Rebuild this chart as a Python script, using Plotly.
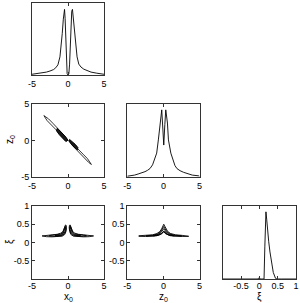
import plotly.graph_objects as go

# ---------------- data ----------------
# marginal density of x0
x0_grid = [-5, -4.5, -4, -3.5, -3, -2.5, -2, -1.7, -1.4, -1.12, -0.95, -0.8, -0.65, -0.55, -0.48, -0.4, -0.3, -0.2, -0.12, 0,
           0.12, 0.22, 0.32, 0.42, 0.52, 0.62, 0.72, 0.82, 0.93, 1.1, 1.26, 1.5, 1.8, 2.2, 2.6, 3.2, 4.0, 5]
x0_dens = [0.01, 0.015, 0.02, 0.03, 0.04, 0.055, 0.075, 0.1, 0.14, 0.25, 0.4, 0.57, 0.77, 0.87, 0.905, 0.78, 0.45, 0.15, 0.02, 0.0,
           0.02, 0.15, 0.45, 0.77, 0.88, 0.905, 0.8, 0.68, 0.57, 0.38, 0.25, 0.15, 0.11, 0.08, 0.06, 0.04, 0.025, 0.01]

# marginal density of z0
z0_grid = [-5, -4.5, -4, -3.5, -3, -2.55, -2.2, -1.85, -1.5, -1.25, -0.93, -0.7, -0.46, -0.23, -0.1, 0.05, 0.2, 0.33,
           0.56, 0.7, 1.03, 1.31, 1.6, 1.87, 2.3, 2.8, 3.4, 4.0, 4.9, 5]
z0_dens = [0.015, 0.02, 0.03, 0.045, 0.06, 0.077, 0.095, 0.12, 0.17, 0.23, 0.33, 0.51, 0.74, 0.92, 0.7, 0.44, 0.72, 0.92,
           0.74, 0.51, 0.33, 0.23, 0.16, 0.12, 0.09, 0.068, 0.045, 0.03, 0.02, 0.015]

# marginal density of xi
xi_grid = [-1, -0.5, -0.08, -0.04, -0.02, 0.0, 0.02, 0.1, 0.128, 0.15, 0.18, 0.2, 0.22, 0.256, 0.29, 0.34, 0.38, 0.44, 0.48, 0.6, 1.0]
xi_dens = [0, 0, 0, 0.0, 0.012, 0.015, 0.0, 0.0, 0.0, 0.45, 0.92, 0.82, 0.69, 0.51, 0.37, 0.23, 0.09, 0.01, 0.0, 0, 0]

# contour loops: z0 vs x0 (left band, right band, dense cores)
zx_left_outer_x = [-3.35, -2.7, -2.1, -1.5, -0.9, -0.4, -0.08, -0.05, -0.25, -0.6, -1.1, -1.7, -2.3, -2.9, -3.35]
zx_left_outer_y = [3.42, 2.97, 2.37, 1.77, 1.12, 0.6, 0.15, 0.05, -0.02, 0.38, 0.88, 1.53, 2.13, 2.73, 3.42]
zx_left_core_x = [-1.5, -1.0, -0.5, -0.12, -0.02, -0.3, -0.7, -1.2, -1.6, -1.5]
zx_left_core_y = [1.68, 1.22, 0.7, 0.22, 0.05, -0.12, 0.27, 0.8, 1.35, 1.68]
zx_right_outer_x = [0.15, 0.4, 0.9, 1.5, 2.1, 2.7, 3.2, 3.25, 2.85, 2.25, 1.65, 1.05, 0.55, 0.2, 0.15]
zx_right_outer_y = [0.08, -0.15, -0.65, -1.25, -1.85, -2.45, -3.1, -3.25, -2.95, -2.35, -1.75, -1.15, -0.6, -0.1, 0.08]
zx_right_core_x = [0.22, 0.55, 1.0, 1.38, 1.3, 0.85, 0.4, 0.12, 0.22]
zx_right_core_y = [0.16, -0.08, -0.5, -0.95, -1.25, -0.9, -0.45, -0.05, 0.16]

# contour loops: xi vs x0 (left horn, right horn; nested levels)
hx_l1_x = [-3.6, -3.0, -2.2, -1.5, -1.0, -0.7, -0.52, -0.42, -0.35, -0.25, -0.22, -0.28, -0.45, -0.8, -1.5, -2.2, -3.0, -3.6]
hx_l1_y = [0.18, 0.2, 0.21, 0.225, 0.255, 0.3, 0.37, 0.44, 0.48, 0.47, 0.4, 0.3, 0.22, 0.175, 0.16, 0.155, 0.16, 0.18]
hx_l2_x = [-2.6, -1.5, -1.0, -0.7, -0.5, -0.38, -0.3, -0.3, -0.45, -0.8, -1.5, -2.6, -2.6]
hx_l2_y = [0.19, 0.205, 0.23, 0.28, 0.36, 0.45, 0.44, 0.34, 0.25, 0.19, 0.17, 0.175, 0.19]
hx_l3_x = [-1.8, -1.0, -0.65, -0.45, -0.36, -0.32, -0.5, -0.9, -1.8, -1.8]
hx_l3_y = [0.19, 0.21, 0.26, 0.35, 0.42, 0.36, 0.26, 0.2, 0.18, 0.19]
hx_r1_x = [3.55, 2.95, 2.15, 1.45, 0.95, 0.65, 0.47, 0.37, 0.3, 0.2, 0.17, 0.23, 0.4, 0.75, 1.45, 2.15, 2.95, 3.55]
hx_r1_y = [0.18, 0.2, 0.21, 0.225, 0.255, 0.3, 0.37, 0.44, 0.48, 0.47, 0.4, 0.3, 0.22, 0.175, 0.16, 0.155, 0.16, 0.18]
hx_r2_x = [2.55, 1.45, 0.95, 0.65, 0.45, 0.33, 0.25, 0.25, 0.4, 0.75, 1.45, 2.55, 2.55]
hx_r2_y = [0.19, 0.205, 0.23, 0.28, 0.36, 0.45, 0.44, 0.34, 0.25, 0.19, 0.17, 0.175, 0.19]
hx_r3_x = [1.75, 0.95, 0.6, 0.4, 0.31, 0.27, 0.45, 0.85, 1.75, 1.75]
hx_r3_y = [0.19, 0.21, 0.26, 0.35, 0.42, 0.36, 0.26, 0.2, 0.18, 0.19]

# contour loops: xi vs z0 (tent shape; nested levels)
hz_l1_x = [-3.4, -2.5, -1.5, -0.9, -0.5, -0.25, -0.08, 0.05, 0.18, 0.35, 0.6, 1.0, 1.7, 2.6, 3.5,
           3.5, 2.6, 1.7, 1.0, 0.6, 0.3, 0.05, -0.2, -0.5, -0.9, -1.5, -2.5, -3.4, -3.4]
hz_l1_y = [0.185, 0.195, 0.21, 0.245, 0.3, 0.37, 0.45, 0.5, 0.45, 0.37, 0.3, 0.245, 0.21, 0.195, 0.185,
           0.17, 0.165, 0.17, 0.185, 0.215, 0.26, 0.31, 0.26, 0.215, 0.185, 0.17, 0.165, 0.17, 0.185]
hz_l2_x = [-2.4, -1.4, -0.8, -0.4, -0.15, 0.05, 0.25, 0.5, 0.9, 1.5, 2.5, 2.5, 1.5, 0.9, 0.4, 0.05, -0.3, -0.8, -1.4, -2.4, -2.4]
hz_l2_y = [0.185, 0.2, 0.235, 0.29, 0.37, 0.44, 0.37, 0.29, 0.235, 0.2, 0.185, 0.175, 0.18, 0.2, 0.24, 0.3, 0.24, 0.2, 0.18, 0.175, 0.185]
hz_l3_x = [-1.4, -0.7, -0.3, 0.05, 0.4, 0.8, 1.5, 1.5, 0.8, 0.3, 0.05, -0.2, -0.7, -1.4, -1.4]
hz_l3_y = [0.19, 0.225, 0.28, 0.38, 0.28, 0.225, 0.19, 0.182, 0.2, 0.24, 0.3, 0.24, 0.2, 0.182, 0.19]

x_ticks = [-5, 0, 5]
x_ticktext = ["-5", "0", "5"]
xi_ticks = [-0.5, 0, 0.5, 1]
xi_ticktext = ["-0.5", "0", "0.5", "1"]

# ---------------- figure ----------------
FONT = "Liberation Sans, Arial, sans-serif"
fig = go.Figure()

def line(xs, ys, ax, w=0.9, fill=None):
    kw = dict(x=xs, y=ys, mode="lines", line=dict(color="black", width=w),
              xaxis="x" + ax, yaxis="y" + ax, showlegend=False, hoverinfo="skip")
    if fill:
        kw.update(fill="toself", fillcolor=fill)
    fig.add_trace(go.Scatter(**kw))

line(x0_grid, x0_dens, "")
line(zx_left_outer_x, zx_left_outer_y, "2", 0.8)
line(zx_right_outer_x, zx_right_outer_y, "2", 0.8)
line(zx_left_core_x, zx_left_core_y, "2", 1.0, fill="#1a1a1a")
line(zx_right_core_x, zx_right_core_y, "2", 1.0, fill="#1a1a1a")
line(z0_grid, z0_dens, "3")
for xs, ys in [(hx_l1_x, hx_l1_y), (hx_l2_x, hx_l2_y), (hx_l3_x, hx_l3_y),
               (hx_r1_x, hx_r1_y), (hx_r2_x, hx_r2_y), (hx_r3_x, hx_r3_y)]:
    line(xs, ys, "4", 0.9)
for xs, ys in [(hz_l1_x, hz_l1_y), (hz_l2_x, hz_l2_y), (hz_l3_x, hz_l3_y)]:
    line(xs, ys, "5", 0.9)
line(xi_grid, xi_dens, "6")

cols = [[32 / 300, 104 / 300], [127.3 / 300, 199.5 / 300], [222.7 / 300, 296 / 300]]
rows = [[1 - 75 / 303, 1 - 2.5 / 303], [1 - 177.3 / 303, 1 - 104 / 303], [1 - 279 / 303, 1 - 206 / 303]]

def axis(domain, rng, anchor, tickvals=None, ticktext=None, standoff=0):
    d = dict(domain=domain, range=rng, anchor=anchor, showline=True, linecolor="#333",
             linewidth=1, mirror=True, showgrid=False, zeroline=False, automargin=False,
             tickfont=dict(family=FONT, size=9, color="black"), fixedrange=True)
    if tickvals is None:
        d.update(ticks="", showticklabels=False)
    else:
        d.update(ticks="inside", ticklen=3, tickcolor="#333", mirror="ticks",
                 tickmode="array", tickvals=tickvals, ticktext=ticktext,
                 ticklabelstandoff=standoff)
    return d

lay = dict(
    width=300, height=303, margin=dict(l=0, r=0, t=0, b=0, autoexpand=False),
    paper_bgcolor="white", plot_bgcolor="white", showlegend=False,
    font=dict(family=FONT, size=9, color="black"),
    xaxis=axis(cols[0], [-5, 5], "y", x_ticks, x_ticktext),
    yaxis=axis(rows[0], [0, 1], "x"),
    xaxis2=axis(cols[0], [-5, 5], "y2", x_ticks, x_ticktext),
    yaxis2=axis(rows[1], [-5, 5], "x2", x_ticks, x_ticktext),
    xaxis3=axis(cols[1], [-5, 5], "y3", x_ticks, x_ticktext),
    yaxis3=axis(rows[1], [0, 1], "x3"),
    xaxis4=axis(cols[0], [-5, 5], "y4", x_ticks, x_ticktext, -2),
    yaxis4=axis(rows[2], [-1, 1], "x4", xi_ticks, xi_ticktext),
    xaxis5=axis(cols[1], [-5, 5], "y5", x_ticks, x_ticktext, -2),
    yaxis5=axis(rows[2], [-1, 1], "x5", xi_ticks, xi_ticktext),
    xaxis6=axis(cols[2], [-1, 1], "y6", xi_ticks, xi_ticktext, -2),
    yaxis6=axis(rows[2], [0, 1], "x6"),
)
fig.update_layout(**lay)

def label(text, px, py, angle=0):
    fig.add_annotation(text=text, x=px / 300, y=1 - py / 303, xref="paper", yref="paper",
                       showarrow=False, textangle=angle, xanchor="center", yanchor="middle",
                       font=dict(family=FONT, size=10, color="black"))

label("z<sub>0</sub>", 10, 140, -90)
label("ξ", 10, 242, -90)
label("x<sub>0</sub>", 68, 296.5)
label("z<sub>0</sub>", 163.5, 296.5)
label("ξ", 259.5, 296.5)

fig.write_html("out.html", config={"displayModeBar": False},
               post_script="document.body.style.margin='0';document.body.style.overflow='hidden';")
